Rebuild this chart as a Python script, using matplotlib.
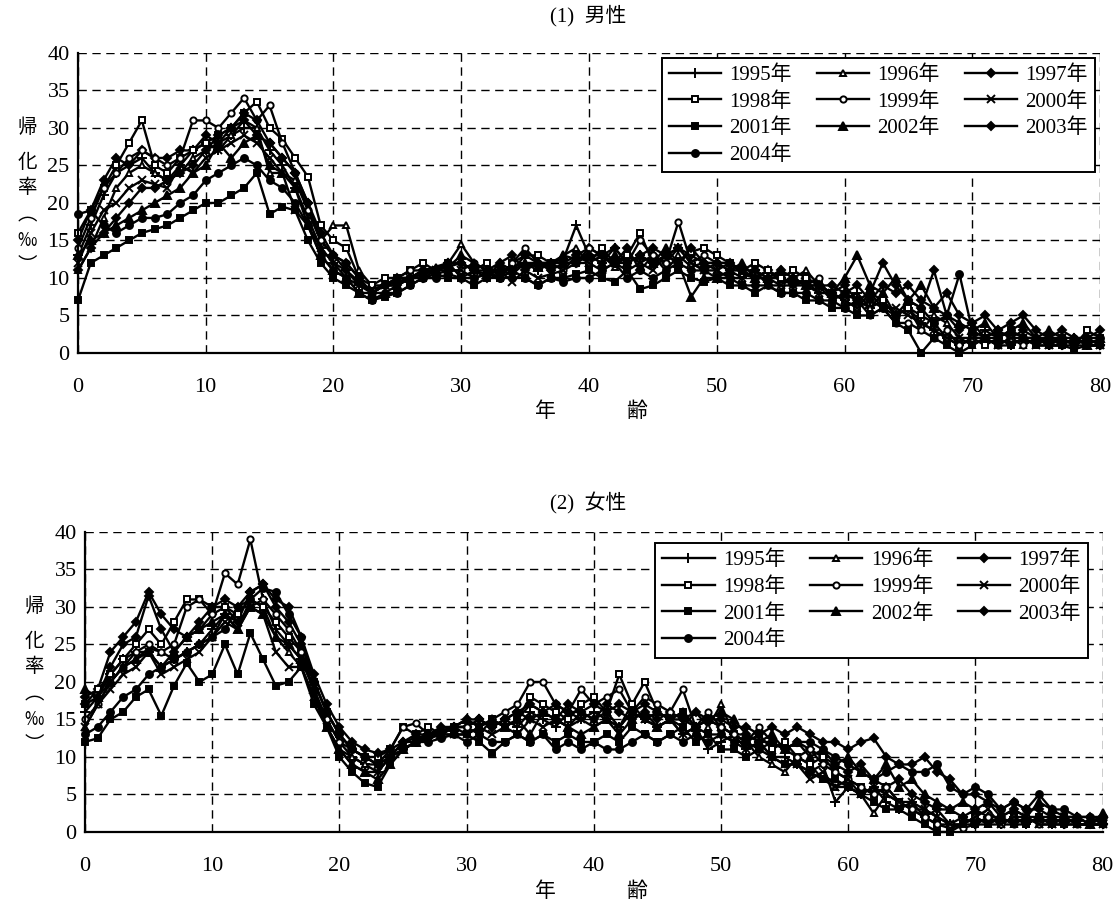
import matplotlib
matplotlib.use('Agg')
import matplotlib.pyplot as plt
from matplotlib import font_manager
from matplotlib.font_manager import FontProperties

ages = list(range(81))
years = ['1995', '1996', '1997', '1998', '1999', '2000', '2001', '2002', '2003', '2004']

# --- (1) 男性 ---
male_1995 = [13, 17, 21, 24, 25, 26, 24, 23, 25, 27,
             28, 27, 29, 30, 30, 27, 25, 22, 18, 14,
             12, 11, 9, 8, 9, 9.5, 10, 11, 11, 11.5,
             12, 11, 10.5, 11, 11.5, 12, 11, 12, 12.5, 17,
             13, 12, 14, 12, 13, 12, 13, 14, 12, 11,
             12, 11, 10, 11, 10, 10, 9, 9.5, 8, 8,
             7, 8, 6, 7, 5, 6, 4, 3, 2, 1,
             2, 3, 2, 1, 2, 2, 1, 1, 2, 1, 1]
male_1996 = [11, 14, 18, 22, 24, 25, 24, 23, 24, 26,
             27, 28, 29, 31, 30, 24, 24, 23, 19, 15,
             17, 17, 11, 9, 9, 10, 10, 11, 11.5, 12,
             14.5, 12, 11, 11, 10.5, 12, 12, 11.5, 13, 14,
             12, 13, 11.5, 13, 12, 13, 11, 13, 11.5, 12,
             11, 12, 10.5, 10, 11, 9.5, 10, 11, 9, 7,
             8, 7, 6, 8, 5, 6, 3, 5, 4, 2,
             1, 2, 3, 2, 1, 2, 1, 2, 1, 2, 1]
male_1997 = [15, 19, 23, 26, 25, 27, 26, 26, 27, 27,
             29, 28, 30, 31, 29, 28, 26, 24, 20, 15,
             13, 11, 9.5, 8, 9, 9, 10, 10, 11, 12,
             12, 11, 10, 12, 13, 11, 12, 11, 12, 13,
             14, 13, 12, 14, 11, 13, 12, 14, 13, 12,
             12, 11, 11, 10, 11, 10, 9, 10, 9, 8,
             9, 7, 8, 12, 9, 7, 6, 11, 5, 3,
             4, 2, 3, 2, 3, 2, 2, 1, 1, 2, 1]
male_1998 = [16, 19, 22, 25, 28, 31, 25, 24, 26, 27,
             28, 29, 30, 32, 33.5, 30, 28.5, 26, 23.5, 17,
             15, 14, 10, 9, 10, 10, 11, 12, 11, 12,
             10, 11, 12, 10, 12, 13, 13, 12, 12, 12,
             12, 14, 12, 13, 16, 12, 13, 12, 13.5, 14,
             13, 12, 11, 12, 11, 10, 11, 10, 9, 8,
             7, 6, 8, 7, 5, 6, 5, 4, 2, 1,
             2, 1, 2, 3, 2, 1, 2, 2, 1, 3, 2]
male_1999 = [14, 18, 22, 24, 26, 27, 26, 25, 26, 31,
             31, 30, 32, 34, 31, 33, 28, 24, 19, 15,
             13, 12, 10, 8, 9, 10, 11, 11, 10.5, 11,
             11, 12, 11, 10, 12, 14, 12, 12, 11, 12,
             14, 13, 12, 12, 15, 13, 12, 17.5, 12, 13,
             12, 12, 11, 10, 10, 9, 10, 9, 10, 7,
             8, 7, 5, 6, 4, 4, 3, 2, 3, 1,
             2, 2, 1, 2, 1, 2, 1, 1, 2, 1, 1]
male_2000 = [12, 16, 19, 20, 22, 23, 22.5, 22, 25, 24,
             26, 27, 28, 29, 28, 26, 24, 19, 17, 14,
             12, 10, 9, 8.5, 9, 9, 10, 10.5, 11, 11,
             11, 10, 10.5, 11, 9.5, 11, 10, 10.5, 11, 13,
             12, 11, 12, 11, 12, 11, 13, 14, 12, 11,
             11, 10, 10, 11, 9, 9, 9, 9, 8, 8,
             7, 6, 7, 6, 6, 5, 4, 3, 2, 2,
             2, 2, 1, 2, 2, 1, 1, 2, 1, 1, 1]
male_2001 = [7, 12, 13, 14, 15, 16, 16.5, 17, 18, 19,
             20, 20, 21, 22, 24, 18.5, 19.5, 19, 15, 12,
             10, 9, 8, 7, 7.5, 8, 9, 10, 10.5, 10,
             10, 9, 10, 10, 11, 10, 9, 10, 10, 10.5,
             11, 10, 9.5, 11, 8.5, 9, 10, 11, 10, 9.5,
             10, 9, 9, 8, 9, 8, 8, 7, 7, 6,
             6, 5, 5, 6, 4, 3, 0, 2, 1, 0,
             1, 2, 1, 1, 2, 1, 1, 1, 0.5, 1, 1]
male_2002 = [13, 15, 16, 17, 18, 19, 20, 21, 22, 24,
             25, 28, 26, 28, 29, 25, 24, 22, 17, 13,
             11, 10, 8, 8, 8, 9, 10, 10.5, 11, 11.5,
             13, 12, 11, 12, 11, 12, 11.5, 12, 13, 12.5,
             13, 12, 13, 12, 13, 12, 14, 12, 7.5, 10,
             10, 11, 12, 10, 10, 11, 10, 9, 9, 8,
             10, 13, 9, 8, 10, 7, 9, 6, 5, 4,
             3, 4, 2, 3, 4, 2, 3, 2, 2, 1, 2]
male_2003 = [11, 14, 16, 18, 20, 22, 22, 23, 24, 25,
             27, 29, 30, 32, 31, 28, 26, 24, 20, 16,
             13, 12, 10, 8, 9, 10, 10, 11, 11, 12,
             12, 11, 11, 11, 11, 13, 12, 12, 12, 12,
             13, 13, 14, 12, 13, 14, 13, 12, 14, 12,
             12, 12, 11, 11, 10, 11, 10, 9, 9, 9,
             8, 9, 7, 9, 8, 9, 7, 6, 8, 5,
             4, 5, 3, 4, 5, 3, 2, 3, 2, 2, 3]
male_2004 = [18.5, 19, 17, 16, 17, 18, 18, 18.5, 20, 21,
             23, 24, 25, 26, 25, 23, 22, 20, 17, 13,
             11, 10, 8, 7, 8, 8, 9, 10, 10, 10.5,
             10, 10, 10.5, 10, 10, 10, 9, 10, 9.5, 10,
             10, 11, 12, 10, 11, 10, 11, 12, 11, 11,
             10, 10, 9, 9, 9, 8, 8, 8, 7, 7,
             6, 7, 8, 6, 5, 7, 6, 4, 5, 10.5,
             3, 2, 2, 3, 2, 2, 1.5, 2, 1, 2, 2]

# --- (2) 女性 ---
female_1995 = [16, 18, 21, 23, 24, 24, 22, 23, 24, 25,
               27, 29, 28, 30, 31, 27, 25, 23, 19, 15,
               12, 10, 9, 8, 10, 11, 12, 13, 13, 14,
               14, 15, 14, 15, 14, 16, 15, 14, 16, 15,
               16, 15, 14, 16, 15, 14, 15, 13, 14, 11,
               12, 13, 11, 12, 10, 10, 9, 8, 9, 4,
               6, 5, 6, 4, 3, 4, 2, 3, 1, 2,
               1, 2, 1, 2, 1, 2, 1, 1, 2, 1, 1]
female_1996 = [14, 17, 20, 22, 23, 24.5, 24, 23, 24, 25,
               26, 29, 27, 31, 30, 26, 24, 22, 18, 14,
               11, 10, 9, 9, 10, 12, 12, 13, 13.5, 14,
               15, 14, 15, 14, 15, 17, 16, 15, 14, 16,
               15, 16, 14, 17, 15, 16, 15, 14, 16, 14,
               17, 13, 12, 10, 9, 8, 10, 9, 7, 6,
               6, 5, 2.5, 5, 4, 3, 3, 2, 1, 1,
               2, 1, 2, 1, 2, 1, 1, 2, 1, 1, 2]
female_1997 = [18, 19, 24, 26, 28, 32, 29, 27, 26, 27,
               29, 30, 28, 32, 33, 30, 28, 25, 20, 16,
               13, 11, 10, 9, 10, 12, 12.5, 13, 13, 14,
               14, 15, 14, 15, 16, 17, 16, 15, 17, 16,
               15, 17, 16, 15, 16, 15, 16, 15, 14, 15,
               14, 13, 13, 12, 12, 11, 12, 11, 10, 9,
               8, 9, 7, 6, 7, 5, 4, 3, 3, 2,
               3, 2, 2, 3, 2, 2, 2, 1, 2, 2, 1]
female_1998 = [17, 19, 21, 23, 25, 27, 25, 28, 31, 31,
               30, 30, 29, 31, 30, 28, 26, 24, 20, 16,
               13, 11, 10, 10, 11, 14, 13, 14, 13, 14,
               13, 14, 15, 14, 15, 18, 17, 16, 15, 17,
               18, 16, 21, 17, 20, 16, 15, 16, 14, 15,
               14, 13, 12, 13, 11, 12, 10, 9, 10, 8,
               7, 6, 5, 6, 4, 3, 2, 1, 0.5, 1,
               2, 1, 1, 2, 1, 2, 1, 2, 1, 1, 1]
female_1999 = [15, 17, 20, 22, 24, 25, 24, 25, 30, 31,
               29, 34.5, 33, 39, 31, 29, 27, 24, 19, 15,
               12, 11, 10, 9, 11, 14, 14.5, 13, 13.5, 14,
               14, 13, 15, 16, 17, 20, 20, 17, 16, 19,
               17, 18, 19, 16, 18, 17, 16, 19, 14, 16,
               14, 13, 12, 14, 12, 11, 10, 11, 9, 8,
               7, 6, 5, 6, 4, 3, 2, 1, 1, 0.5,
               1, 2, 1, 1, 2, 1, 2, 1, 1, 1, 1]
female_2000 = [14, 17, 19, 21, 22, 24, 21, 22, 23, 24,
               26, 28, 27, 30, 29, 24, 22, 22, 18, 14,
               11, 9, 8, 8, 10, 11, 12, 12.5, 13, 13,
               13, 14, 13, 14, 13, 15, 14, 15, 14, 15,
               14, 15, 14, 16, 15, 14, 15, 13, 14, 13,
               13, 12, 11, 12, 10, 9, 9, 7, 8, 6,
               7, 5, 6, 5, 4, 4, 3, 2, 1, 1,
               2, 3, 1, 2, 2, 1, 1, 2, 1, 1, 1]
female_2001 = [12, 12.5, 15, 16, 18, 19, 15.5, 19.5, 22.5, 20,
               21, 25, 21, 26.5, 23, 19.5, 20, 22, 17, 14,
               10, 8, 6.5, 6, 9, 11, 12, 12.5, 13, 13,
               13, 12, 10.5, 12, 13, 12, 13, 12, 13, 12,
               12, 13, 12, 14, 13, 12, 13, 14, 12, 13,
               11, 11, 10, 11, 10, 9, 9, 8, 7, 7,
               6, 5, 4, 3, 3, 2, 1, 0, 0, 1,
               1, 1, 2, 1, 1, 2, 1, 1, 1, 1, 1]
female_2002 = [19, 18, 20, 22, 23, 24, 22, 24, 26, 27,
               28, 29, 27, 30, 29, 26, 25, 23, 19, 14,
               11, 9, 8, 7, 9, 11, 12, 13, 13, 14,
               15, 14, 15, 14, 15, 13, 16, 15, 14, 13,
               14, 15, 13, 15, 16, 14, 15, 16, 14, 15,
               16, 15, 13, 12, 13, 11, 12, 10, 11, 9,
               10, 8, 7, 9, 6, 7, 5, 4, 3, 4,
               3, 4, 2, 3, 2, 4, 3, 2, 2, 1, 2.5]
female_2003 = [17, 18, 22, 25, 26, 31.5, 27, 24, 26, 28,
               30, 31, 30, 32, 33, 31, 30, 26, 21, 17,
               14, 12, 11, 10.5, 11, 12, 13, 13, 14, 14,
               15, 15, 14, 15, 16, 15, 16, 17, 16, 16,
               17, 16, 17, 16, 17, 16, 15, 15, 16, 15,
               15, 14, 14, 13, 14, 13, 14, 13, 12, 12,
               11, 12, 12.5, 10, 9, 9, 10, 8, 7, 5,
               5, 4, 3, 4, 3, 3, 2, 2, 2, 1, 2]
female_2004 = [13, 14, 16, 18, 19, 21, 22, 23, 24, 25,
               26, 27, 30, 31, 32.5, 32, 29, 26, 20, 16,
               13, 11, 10, 9, 10, 11, 12, 12, 12.5, 13,
               12, 13, 12, 12, 13, 12, 13, 11, 12, 11,
               12, 11, 11, 12, 13, 12, 13, 12, 13, 12,
               13, 12, 12, 11, 12, 11, 12, 12, 11, 10,
               9, 8, 7, 8, 9, 8, 8, 9, 6, 5,
               6, 5, 3, 4, 3, 5, 3, 3, 2, 2, 2]

male_series = [male_1995, male_1996, male_1997, male_1998, male_1999,
               male_2000, male_2001, male_2002, male_2003, male_2004]
female_series = [female_1995, female_1996, female_1997, female_1998, female_1999,
                 female_2000, female_2001, female_2002, female_2003, female_2004]

# marker, size, filled
styles = [('+', 7, True), ('^', 5, False), ('D', 4.5, True), ('s', 5, False),
          ('o', 4.5, False), ('x', 5.5, True), ('s', 5, True), ('^', 5.5, True),
          ('D', 4, True), ('o', 5, True)]

available = set(f.name for f in font_manager.fontManager.ttflist)
num_font = 'DejaVu Serif'
for cand in ['Liberation Sans Narrow', 'Liberation Serif']:
    if cand in available:
        num_font = cand
        break
CJK = 'Noto Sans CJK JP'
plt.rcParams['font.family'] = [num_font, CJK, 'DejaVu Sans']


def draw_panel(ax, series, legend_anchor):
    handles = []
    for vals, yr, (mk, ms, filled) in zip(series, years, styles):
        ln, = ax.plot(ages, vals, color='black', lw=1.7, marker=mk, markersize=ms,
                      markerfacecolor='black' if filled else 'white',
                      markeredgecolor='black', markeredgewidth=1.4, clip_on=False)
        ln.set_label(yr + '年')
        handles.append(ln)
    ax.set_xlim(0, 80)
    ax.set_ylim(0, 40)
    ax.set_xticks(range(0, 81, 10))
    ax.set_yticks(range(0, 41, 5))
    ax.grid(True, color='black', linestyle=(0, (6, 4)), lw=1.0)
    for s in ['top', 'right']:
        ax.spines[s].set_visible(False)
    for s in ['left', 'bottom']:
        ax.spines[s].set_linewidth(1.6)
    ax.tick_params(length=0, labelsize=16)
    ax.tick_params(axis='x', pad=18)
    ax.tick_params(axis='y', pad=6)

    # legend filled row by row like the original (3 columns)
    order = [0, 3, 6, 9, 1, 4, 7, 2, 5, 8]
    leg = ax.legend([handles[i] for i in order], [handles[i].get_label() for i in order],
                    ncol=3, loc='upper right', bbox_to_anchor=legend_anchor,
                    borderaxespad=0,
                    prop=FontProperties(family=[num_font, CJK], size=15),
                    handlelength=2.5, handletextpad=0.4, columnspacing=1.2,
                    labelspacing=0.34, borderpad=0.35, fancybox=False,
                    edgecolor='black', framealpha=1)
    leg.get_frame().set_linewidth(1.4)

    # vertical y label
    tr = ax.get_yaxis_transform()
    for ch, yv in zip(['帰', '化', '率', '︵', '‰', '︶'], [30, 25.4, 22, 18.4, 15, 11.6]):
        ax.text(-0.05, yv, ch, transform=tr, ha='center', va='center',
                fontsize=14, family=[CJK, 'DejaVu Sans'])


fig = plt.figure(figsize=(11.17, 9.05), dpi=100)
ax1 = fig.add_axes([0.0698, 0.610, 0.915, 0.3315])
ax2 = fig.add_axes([0.0761, 0.0807, 0.911, 0.3315])

draw_panel(ax1, male_series, (0.995, 0.983))
draw_panel(ax2, female_series, (0.986, 0.962))

fig.text(0.527, 0.983, '(1)  男性', ha='center', va='center', fontsize=15)
fig.text(0.527, 0.444, '(2)  女性', ha='center', va='center', fontsize=15)
for y in [0.546, 0.016]:
    fig.text(0.488, y, '年', ha='center', va='center', fontsize=15, family=[CJK])
    fig.text(0.570, y, '齢', ha='center', va='center', fontsize=15, family=[CJK])

fig.savefig('out.png', dpi=100)
